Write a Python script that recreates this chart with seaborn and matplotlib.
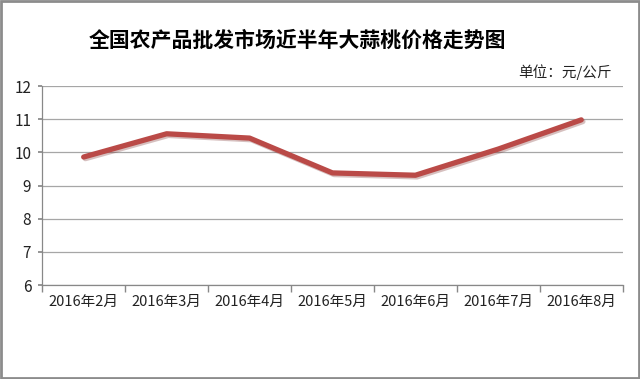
#! /usr/bin/env python3

import matplotlib
matplotlib.use('Agg')

import matplotlib.pyplot as plt
import matplotlib.patches as mpatches
import matplotlib.patheffects as pe
import numpy as np
import pandas as pd
import seaborn as sns

months = ['2016年2月', '2016年3月', '2016年4月', '2016年5月',
          '2016年6月', '2016年7月', '2016年8月']
prices = [9.86, 10.56, 10.43, 9.38, 9.31, 10.1, 10.98]

title = '全国农产品批发市场近半年大蒜桃价格走势图'
unit_label = '单位：元/公斤'

data = pd.DataFrame({'月份': months, '价格': prices})

sns.set_theme(style='white')
plt.rcParams['font.family'] = ['Noto Sans CJK SC', 'DejaVu Sans']

fig = plt.figure(figsize=(6.4, 3.79), dpi=100)
ax = fig.add_axes([0.066, 0.248, 0.907, 0.525])

line_color = '#BA4A47'
sns.lineplot(x='月份', y='价格', data=data, sort=False, ax=ax,
             color=line_color, linewidth=3.8, solid_capstyle='round',
             path_effects=[pe.SimpleLineShadow(offset=(1.2, -1.2), alpha=0.3,
                                               shadow_color='#7a2f2d'),
                           pe.Normal()])

ax.set_ylim(6, 12)
ax.set_xlim(-0.5, len(months) - 0.5)
ax.set_yticks(np.arange(6, 13, 1))
ax.set_xticks(range(len(months)))
ax.set_xticklabels(months)
ax.set_xticks(np.arange(-0.5, len(months), 1), minor=True)
ax.tick_params(axis='x', which='major', length=0, pad=7, labelsize=10.5,
               colors='#222222')
ax.tick_params(axis='x', which='minor', length=5, color='#888888',
               direction='out', bottom=True)
ax.tick_params(axis='y', which='major', length=3, color='#888888',
               direction='out', left=True, labelsize=11, colors='#222222',
               pad=5)

ax.grid(axis='y', color='#A6A6A6', linewidth=0.9)
ax.set_axisbelow(True)
ax.set_xlabel('')
ax.set_ylabel('')
for side in ['top', 'right']:
    ax.spines[side].set_visible(False)
for side in ['left', 'bottom']:
    ax.spines[side].set_color('#888888')
    ax.spines[side].set_linewidth(0.9)

fig.text(0.464, 0.893, title, ha='center', va='center', fontsize=15,
         fontweight='heavy', color='#000000')
fig.text(0.955, 0.81, unit_label, ha='right', va='center', fontsize=10.5,
         color='#222222')

fig.patches.append(mpatches.Rectangle((0.002, 0.003), 0.996, 0.994,
                                      transform=fig.transFigure, fill=False,
                                      edgecolor='#8C8C8C', linewidth=2))

plt.savefig('out.png', dpi=100)
